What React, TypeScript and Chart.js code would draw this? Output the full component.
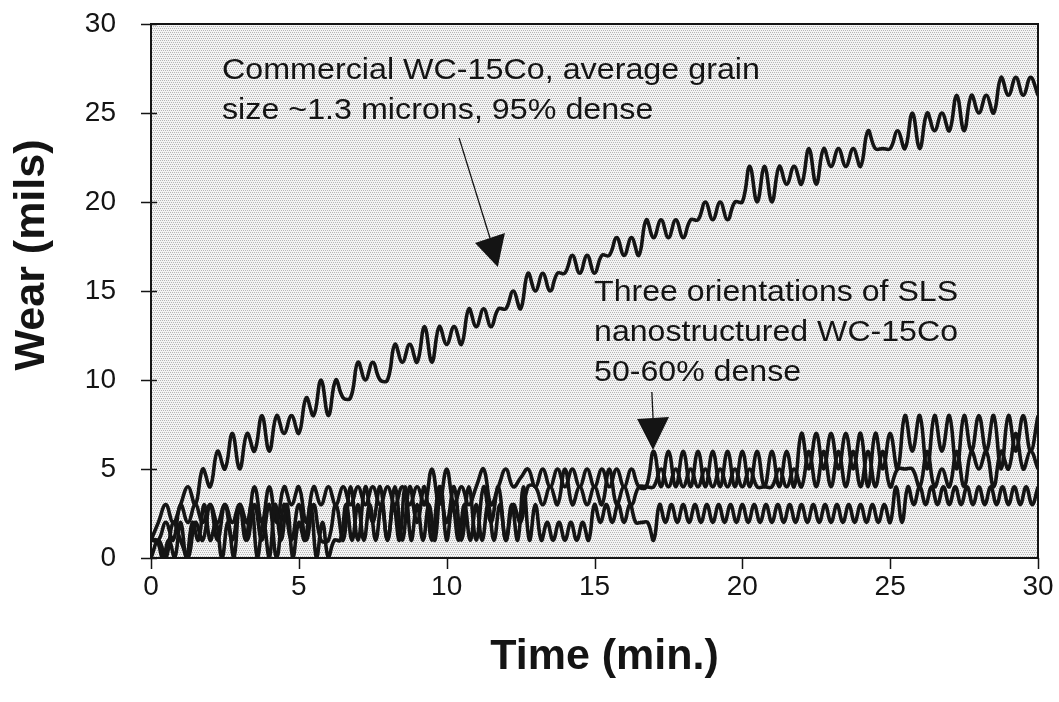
import React, { useEffect, useRef } from "react";
import { Chart, registerables } from "chart.js";

Chart.register(...registerables);

// Time axis samples (minutes)
const TIME_Q = [
  0, 0.25, 0.5, 0.75, 1, 1.25, 1.5, 1.75, 2, 2.25, 2.5, 2.75, 3, 3.25, 3.5, 3.75,
  4, 4.25, 4.5, 4.75, 5, 5.25, 5.5, 5.75, 6, 6.25, 6.5, 6.75, 7, 7.25, 7.5, 7.75,
  8, 8.25, 8.5, 8.75, 9, 9.25, 9.5, 9.75, 10, 10.25, 10.5, 10.75, 11, 11.25, 11.5, 11.75,
  12, 12.25, 12.5, 12.75, 13, 13.25, 13.5, 13.75, 14, 14.25, 14.5, 14.75, 15, 15.25, 15.5, 15.75,
  16, 16.25, 16.5, 16.75, 17, 17.25, 17.5, 17.75, 18, 18.25, 18.5, 18.75, 19, 19.25, 19.5, 19.75,
  20, 20.25, 20.5, 20.75, 21, 21.25, 21.5, 21.75, 22, 22.25, 22.5, 22.75, 23, 23.25, 23.5, 23.75,
  24, 24.25, 24.5, 24.75, 25, 25.25, 25.5, 25.75, 26, 26.25, 26.5, 26.75, 27, 27.25, 27.5, 27.75,
  28, 28.25, 28.5, 28.75, 29, 29.25, 29.5, 29.75, 30,
];

const TIME_F = [
  0, 0.2, 0.4, 0.6, 0.8, 1, 1.2, 1.4, 1.6, 1.8, 2, 2.2, 2.4, 2.6, 2.8, 3, 3.2, 3.4, 3.6, 3.8,
  4, 4.2, 4.4, 4.6, 4.8, 5, 5.2, 5.4, 5.6, 5.8, 6, 6.2, 6.4, 6.6, 6.8, 7, 7.2, 7.4, 7.6, 7.8,
  8, 8.2, 8.4, 8.6, 8.8, 9, 9.2, 9.4, 9.6, 9.8, 10, 10.2, 10.4, 10.6, 10.8, 11, 11.2, 11.4, 11.6, 11.8,
  12, 12.2, 12.4, 12.6, 12.8, 13, 13.2, 13.4, 13.6, 13.8, 14, 14.2, 14.4, 14.6, 14.8, 15, 15.2, 15.4, 15.6, 15.8,
  16, 16.2, 16.4, 16.6, 16.8, 17, 17.2, 17.4, 17.6, 17.8, 18, 18.2, 18.4, 18.6, 18.8, 19, 19.2, 19.4, 19.6, 19.8,
  20, 20.2, 20.4, 20.6, 20.8, 21, 21.2, 21.4, 21.6, 21.8, 22, 22.2, 22.4, 22.6, 22.8, 23, 23.2, 23.4, 23.6, 23.8,
  24, 24.2, 24.4, 24.6, 24.8, 25, 25.2, 25.4, 25.6, 25.8, 26, 26.2, 26.4, 26.6, 26.8, 27, 27.2, 27.4, 27.6, 27.8,
  28, 28.2, 28.4, 28.6, 28.8, 29, 29.2, 29.4, 29.6, 29.8, 30,
];

// Commercial WC-15Co (mils), sampled on TIME_Q
const WEAR_COMMERCIAL = [
  1, 2, 3, 2,
  3, 4, 3, 5,
  4, 6, 5, 7,
  5, 7, 6, 8,
  6, 8, 7, 8,
  7, 9, 8, 10,
  8, 10, 9, 9,
  11, 10, 11, 10,
  10, 12, 11, 12,
  11, 13, 11, 13,
  12, 13, 12, 14,
  13, 14, 13, 14,
  14, 15, 14, 16,
  15, 16, 15, 16,
  16, 17, 16, 17,
  16, 17, 17, 18,
  17, 18, 17, 19,
  18, 19, 18, 19,
  18, 19, 19, 20,
  19, 20, 19, 20,
  20, 22, 20, 22,
  20, 22, 21, 22,
  21, 23, 21, 23,
  22, 23, 22, 23,
  22, 24, 23, 23,
  23, 24, 23, 25,
  23, 25, 24, 25,
  24, 26, 24, 26,
  25, 26, 25, 27,
  26, 27, 26, 27,
  26,
];

// SLS nanostructured orientation A (top), sampled on TIME_Q
const WEAR_SLS_A = [
  1, 1, 2, 1,
  3, 2, 3, 2,
  3, 2, 3, 2,
  3, 2, 4, 2,
  4, 2, 4, 3,
  4, 2, 4, 3,
  4, 3, 4, 3,
  4, 3, 4, 3,
  4, 3, 4, 3,
  4, 3, 5, 3,
  5, 3, 4, 3,
  4, 5, 3, 4,
  5, 4, 4.5, 5,
  4, 5, 4, 5,
  4, 5, 4, 5,
  4, 5, 4, 5,
  4, 5, 4, 4,
  6, 4, 6, 4,
  6, 4, 6, 4,
  6, 4, 6, 4,
  6, 4, 6, 4,
  6, 4, 6, 4,
  7, 5, 7, 5,
  7, 5, 7, 5,
  7, 4, 7, 5,
  7, 5, 8, 6,
  8, 5, 8, 6,
  8, 5, 8, 6,
  8, 6, 8, 5,
  8, 6, 8, 6,
  8,
];

// SLS orientation B (middle), sampled on TIME_Q
const WEAR_SLS_B = [
  0, 1, 0, 2,
  1, 0, 2, 1,
  3, 1, 3, 1,
  3, 1, 3, 1,
  3, 0, 3, 1,
  3, 1, 3, 1,
  1, 3, 1, 4,
  1, 4, 2, 4,
  1, 4, 1, 4,
  2, 4, 1, 4,
  2, 4, 1, 4,
  1, 4, 2, 4,
  1, 3, 2, 4,
  4, 3, 4, 3,
  5, 3, 4, 3,
  4, 3, 5, 3,
  4, 3, 4, 4,
  4, 5, 4, 5,
  4, 5, 4, 5,
  4, 5, 4, 5,
  4, 5, 4, 4,
  4, 5, 4, 5,
  4, 6, 4, 6,
  4, 6, 4, 6,
  4, 6, 4, 6,
  4, 5, 5, 5,
  4, 6, 4, 5,
  4, 6, 4, 6,
  5, 6, 4, 6,
  5, 7, 5, 6,
  5,
];

// SLS orientation C (bottom), sampled on TIME_F
const WEAR_SLS_C = [
  1, 1, 0, 1, 0,
  2, 0, 2, 1, 3,
  1, 2, 0, 2, 0,
  3, 1, 3, 0, 2,
  0, 3, 1, 3, 0,
  2, 1, 3, 0, 2,
  0, 1, 1, 3, 1,
  3, 1, 3, 1, 3,
  1, 3, 1, 4, 1,
  3, 1, 3, 1, 4,
  1, 3, 1, 3, 1,
  3, 1, 3, 1, 3,
  1, 3, 1, 4, 1,
  3, 1, 2, 1, 2,
  1, 2, 1, 2, 1,
  3, 2, 3, 2, 3,
  2, 3, 2, 2, 2,
  1, 3, 2, 3, 2,
  3, 2, 3, 2, 3,
  2, 3, 2, 3, 2,
  3, 2, 3, 2, 3,
  2, 3, 2, 3, 2,
  3, 2, 3, 2, 3,
  2, 3, 2, 3, 2,
  3, 2, 3, 2, 3,
  2, 4, 2, 4, 3,
  4, 3, 4, 3, 4,
  3, 4, 3, 4, 3,
  4, 3, 4, 3, 4,
  3, 4, 3, 4, 3,
  4,
];

const X_TICKS = [0, 5, 10, 15, 20, 25, 30];
const Y_TICKS = [0, 5, 10, 15, 20, 25, 30];
const X_TITLE = "Time (min.)";
const Y_TITLE = "Wear (mils)";
const NOTE_COMMERCIAL = ["Commercial WC-15Co, average grain", "size ~1.3 microns, 95% dense"];
const NOTE_SLS = ["Three orientations of SLS", "nanostructured WC-15Co", "50-60% dense"];

const FONT = '"Liberation Sans", Arial, Helvetica, sans-serif';
const INK = "#141414";

function pairs(xs: number[], ys: number[]) {
  const n = Math.min(xs.length, ys.length);
  const out: { x: number; y: number }[] = [];
  for (let i = 0; i < n; i++) out.push({ x: xs[i], y: ys[i] });
  return out;
}

function makePattern(ctx: CanvasRenderingContext2D) {
  const pc = document.createElement("canvas");
  pc.width = 4;
  pc.height = 4;
  const p = pc.getContext("2d")!;
  p.fillStyle = "#f4f4f4";
  p.fillRect(0, 0, 4, 4);
  p.fillStyle = "#b6b6b6";
  p.fillRect(0, 0, 1, 1);
  p.fillRect(2, 0, 1, 1);
  p.fillRect(1, 2, 1, 1);
  p.fillRect(3, 2, 1, 1);
  return ctx.createPattern(pc, "repeat");
}

const decor = {
  id: "decor",
  beforeDatasetsDraw(chart: any) {
    const { ctx, chartArea: a } = chart;
    ctx.save();
    ctx.fillStyle = makePattern(ctx) || "#dcdcdc";
    ctx.fillRect(a.left, a.top, a.right - a.left, a.bottom - a.top);
    ctx.restore();
  },
  afterDraw(chart: any) {
    const { ctx, chartArea: a } = chart;
    const xs = chart.scales.x;
    const ys = chart.scales.y;
    const px = (t: number) => xs.getPixelForValue(t);
    const py = (v: number) => ys.getPixelForValue(v);
    ctx.save();
    // frame
    ctx.strokeStyle = INK;
    ctx.lineWidth = 2;
    ctx.strokeRect(a.left, a.top, a.right - a.left, a.bottom - a.top);
    // ticks
    ctx.lineWidth = 1.5;
    ctx.beginPath();
    for (const v of Y_TICKS) {
      const y = Math.round(py(v)) + 0.5;
      ctx.moveTo(a.left - 10, y);
      ctx.lineTo(a.left + 6, y);
    }
    for (const t of X_TICKS) {
      const x = Math.round(px(t)) + 0.5;
      ctx.moveTo(x, a.bottom);
      ctx.lineTo(x, a.bottom + 11);
    }
    ctx.stroke();

    // axis titles
    ctx.fillStyle = INK;
    ctx.font = `bold 43px ${FONT}`;
    ctx.textAlign = "center";
    ctx.textBaseline = "middle";
    ctx.fillText(X_TITLE, (a.left + a.right) / 2 + 10, 657);
    ctx.save();
    ctx.translate(32, 255);
    ctx.rotate(-Math.PI / 2);
    ctx.fillText(Y_TITLE, 0, 0);
    ctx.restore();

    // notes
    const drawNote = (lines: string[], x0: number, y0: number, gap: number, width0: number) => {
      ctx.font = `29px ${FONT}`;
      ctx.textAlign = "left";
      ctx.textBaseline = "middle";
      const w = ctx.measureText(lines[0]).width;
      const sx = width0 / w;
      lines.forEach((ln, i) => {
        ctx.save();
        ctx.translate(x0, y0 + i * gap);
        ctx.scale(sx, 1);
        ctx.fillText(ln, 0, 0);
        ctx.restore();
      });
    };
    drawNote(NOTE_COMMERCIAL, px(2.4), py(27.35), 40, 538);
    drawNote(NOTE_SLS, px(14.985), py(14.9), 40, 364);

    // arrows
    const arrow = (x1: number, y1: number, tx: number, ty: number, b1: [number, number], b2: [number, number]) => {
      ctx.strokeStyle = INK;
      ctx.lineWidth = 1.3;
      ctx.beginPath();
      ctx.moveTo(px(x1), py(y1));
      ctx.lineTo(px((b1[0] + b2[0]) / 2), py((b1[1] + b2[1]) / 2));
      ctx.stroke();
      ctx.fillStyle = INK;
      ctx.beginPath();
      ctx.moveTo(px(tx), py(ty));
      ctx.lineTo(px(b1[0]), py(b1[1]));
      ctx.lineTo(px(b2[0]), py(b2[1]));
      ctx.closePath();
      ctx.fill();
    };
    arrow(10.42, 23.6, 11.73, 16.35, [10.96, 17.7], [11.97, 18.26]);
    arrow(16.94, 9.33, 16.98, 6.07, [16.44, 7.81], [17.52, 7.92]);
    ctx.restore();
  },
};

export default function App() {
  const ref = useRef<HTMLCanvasElement | null>(null);

  useEffect(() => {
    document.body.style.margin = "0";
    const canvas = ref.current;
    if (!canvas) return;
    const line = (data: { x: number; y: number }[]) => ({
      data,
      borderColor: INK,
      borderWidth: 3.6,
      pointRadius: 0,
      tension: 0.42,
      fill: false,
    });
    const chart = new Chart(canvas, {
      type: "line",
      data: {
        datasets: [
          line(pairs(TIME_F, WEAR_SLS_C)),
          line(pairs(TIME_Q, WEAR_SLS_B)),
          line(pairs(TIME_Q, WEAR_SLS_A)),
          line(pairs(TIME_Q, WEAR_COMMERCIAL)),
        ],
      },
      options: {
        animation: false,
        responsive: false,
        devicePixelRatio: 1,
        layout: { padding: { top: 24, right: 21, left: 0, bottom: 0 } },
        plugins: { legend: { display: false }, tooltip: { enabled: false } },
        scales: {
          x: {
            type: "linear",
            min: 0,
            max: 30,
            grid: { display: false, drawTicks: false },
            border: { display: false },
            afterFit: (s: any) => {
              s.height = 144;
              s.paddingLeft = 0;
              s.paddingRight = 0;
            },
            afterBuildTicks: (s: any) => {
              s.ticks = X_TICKS.map((v) => ({ value: v }));
            },
            ticks: {
              color: INK,
              font: { family: FONT, size: 28 },
              padding: 12,
              maxRotation: 0,
              autoSkip: false,
            },
          },
          y: {
            type: "linear",
            min: 0,
            max: 30,
            grid: { display: false, drawTicks: false },
            border: { display: false },
            afterFit: (s: any) => {
              s.width = 151;
              s.paddingTop = 0;
              s.paddingBottom = 0;
            },
            afterBuildTicks: (s: any) => {
              s.ticks = Y_TICKS.map((v) => ({ value: v }));
            },
            ticks: {
              color: INK,
              font: { family: FONT, size: 28 },
              padding: 35,
              autoSkip: false,
            },
          },
        },
      },
      plugins: [decor],
    });
    return () => chart.destroy();
  }, []);

  return (
    <div style={{ width: 1059, height: 702, background: "#fff" }}>
      <canvas ref={ref} width={1059} height={702} style={{ display: "block" }} />
    </div>
  );
}
